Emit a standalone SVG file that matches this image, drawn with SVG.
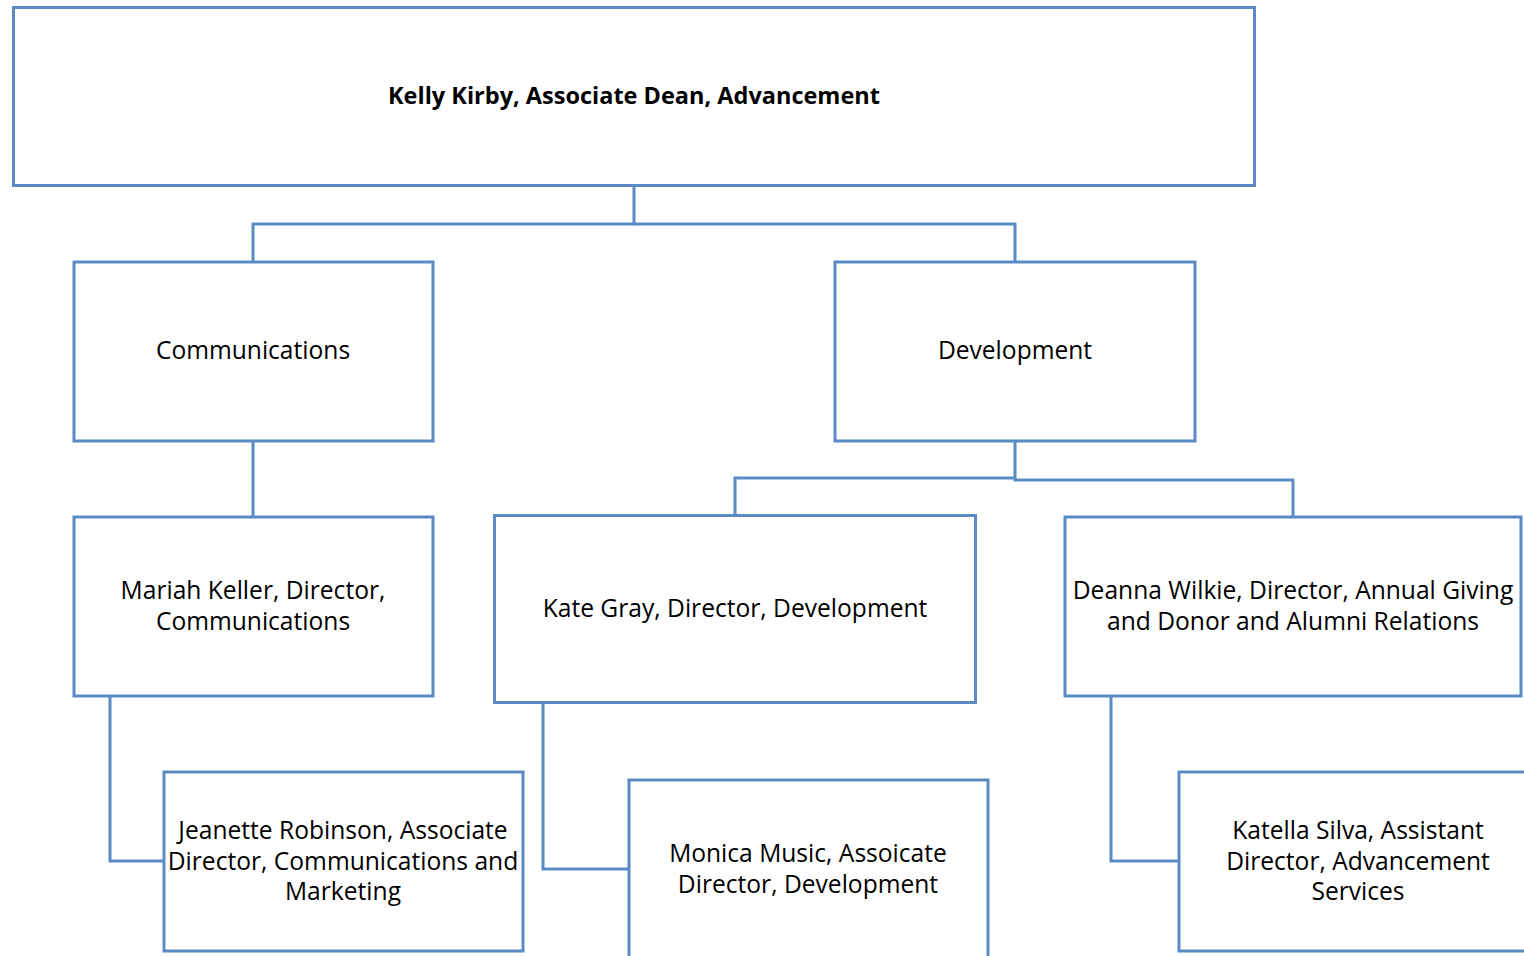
<svg xmlns="http://www.w3.org/2000/svg" width="1524" height="956" viewBox="0 0 1524 956">
<style>
.box{fill:#ffffff;stroke:#5B8BC5;stroke-width:3}
.con{fill:none;stroke:#5B8BC5;stroke-width:3}
text{font-family:"Open Sans","Liberation Sans",Arial,sans-serif;font-size:24.6px;fill:#000;text-anchor:middle}
.b{font-weight:bold;font-size:23.5px}
</style>
<rect width="1524" height="956" fill="#ffffff"/>
<g id="connectors">
<polyline class="con" points="634,186 634,224 253,224 253,262"/>
<polyline class="con" points="634,224 1015,224 1015,262"/>
<line class="con" x1="253" y1="441" x2="253" y2="517"/>
<polyline class="con" points="1015,441 1015,478 735,478 735,515"/>
<polyline class="con" points="1015,478 1015,480 1293,480 1293,517"/>
<polyline class="con" points="110,696 110,861 164,861"/>
<polyline class="con" points="543,703 543,869 629,869"/>
<polyline class="con" points="1111,696 1111,861 1179,861"/>
</g>
<g id="kelly">
<rect class="box" x="13.5" y="7.5" width="1241" height="178"/>
<text class="b" x="634" y="104">Kelly Kirby, Associate Dean, Advancement</text>
</g>
<g id="communications">
<rect class="box" x="74" y="262" width="359" height="179"/>
<text x="253" y="359">Communications</text>
</g>
<g id="development">
<rect class="box" x="835" y="262" width="360" height="179"/>
<text x="1015" y="359">Development</text>
</g>
<g id="mariah">
<rect class="box" x="74" y="517" width="359" height="179"/>
<text x="253" y="599">Mariah Keller, Director,</text>
<text x="253" y="630">Communications</text>
</g>
<g id="kate">
<rect class="box" x="494.5" y="515.5" width="481" height="187"/>
<text x="735" y="617">Kate Gray, Director, Development</text>
</g>
<g id="deanna">
<rect class="box" x="1065" y="517" width="456" height="179"/>
<text x="1293" y="599">Deanna Wilkie, Director, Annual Giving</text>
<text x="1293" y="630">and Donor and Alumni Relations</text>
</g>
<g id="jeanette">
<rect class="box" x="164" y="772" width="359" height="179"/>
<text x="343" y="839">Jeanette Robinson, Associate</text>
<text x="343" y="870">Director, Communications and</text>
<text x="343" y="900">Marketing</text>
</g>
<g id="monica">
<rect class="box" x="629" y="780" width="359" height="200"/>
<text x="808" y="862">Monica Music, Assoicate</text>
<text x="808" y="893">Director, Development</text>
</g>
<g id="katella">
<rect class="box" x="1179" y="772" width="360" height="179"/>
<text x="1358" y="839">Katella Silva, Assistant</text>
<text x="1358" y="870">Director, Advancement</text>
<text x="1358" y="900">Services</text>
</g>
</svg>
